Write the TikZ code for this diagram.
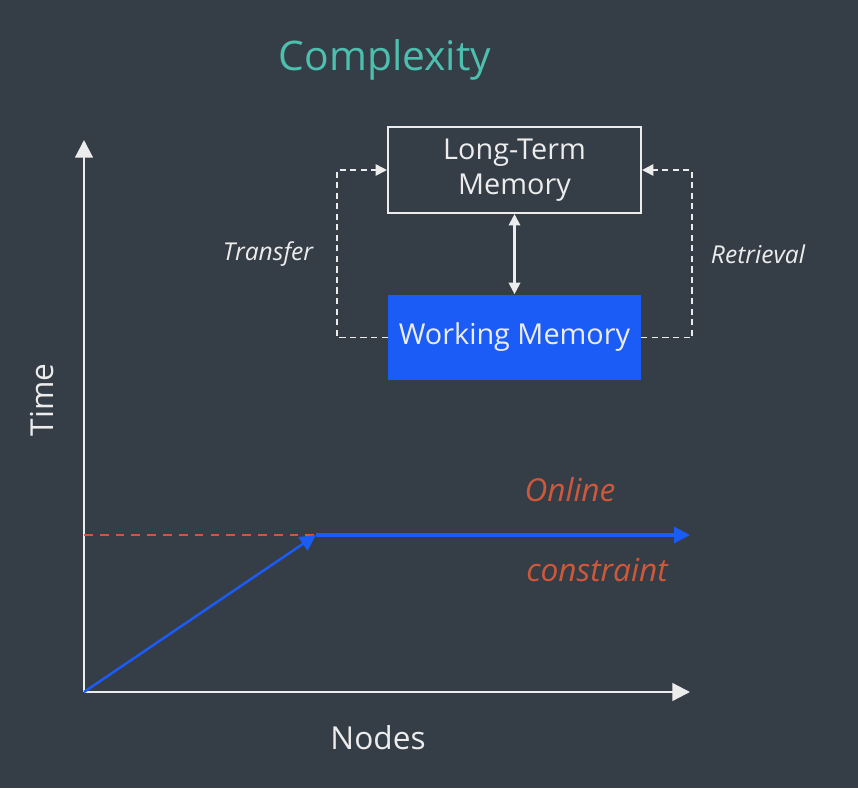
\documentclass[tikz,border=0pt]{standalone}
\usepackage{fontspec}
\setmainfont{Open Sans}
\usepackage{tikz}
\usetikzlibrary{arrows.meta}
\definecolor{bgslate}{HTML}{353D47}
\definecolor{titleteal}{HTML}{4DBFAE}
\definecolor{wmblue}{HTML}{1A5CF5}
\definecolor{limitred}{HTML}{D0583A}
\definecolor{chalk}{HTML}{ECECEC}

\begin{document}
\begin{tikzpicture}[x=0.02cm,y=-0.02cm,
    axis/.style={draw=chalk,line width=1.3pt,-{Triangle[length=10pt,width=10pt]}},
    membox/.style={rectangle,minimum width=5.06cm,minimum height=1.72cm,align=center,text=chalk,font=\fontsize{16.4}{19.8}\selectfont},
    loop/.style={draw=chalk,line width=1pt,dash pattern=on 3.5pt off 2.5pt,-{Triangle[length=6.5pt,width=6.5pt]}},
    tag/.style={text=chalk,font=\fontsize{14}{17}\selectfont\itshape},
    limit/.style={text=limitred,font=\fontsize{18}{21}\selectfont\itshape}]
   		\fill[bgslate] (0,0) rectangle (858,788);
   		\useasboundingbox (0,0) rectangle (858,788);
   		\node at (385,60) [text=titleteal,font=\fontsize{23.2}{28}\selectfont] (title) {Complexity};
   		% axes
   		\coordinate (o) at (84,692);
   		\coordinate (ytop) at (84,140);
   		\coordinate (xend) at (690,692);
   		\draw[axis] (o) -- (ytop);
   		\draw[axis] (o) -- (xend);
   		\node at (42,400) [rotate=90,text=chalk,font=\fontsize{18}{21}\selectfont] (time) {Time};
   		\node at (378,738) [text=chalk,font=\fontsize{18}{21}\selectfont] (nodes) {Nodes};
   		% memory boxes
       	\node at (514.5,170) [membox,draw=chalk,line width=1.2pt] (ltm) {Long-Term\\Memory};
        \node at (514.5,337.5) [membox,fill=wmblue] (wm) {Working Memory};
        \draw[draw=chalk,line width=1.2pt,{Triangle[length=6.5pt,width=6.5pt]}-{Triangle[length=6.5pt,width=6.5pt]}] (ltm.south) -- (wm.north);
        \draw[loop] (wm.west) -- ++(-51,0) |- (ltm.west);
        \draw[loop] (wm.east) -- ++(51,0) |- (ltm.east);
        \node at (268,254) [tag] (transfer) {Transfer};
        \node at (758,254) [tag] (retrieval) {Retrieval};
        % online constraint
        \coordinate (knee) at (316,535);
        \coordinate (cap) at (84,535);
        \coordinate (run) at (690,535);
        \draw[limitred,line width=1.5pt,dash pattern=on 5pt off 4pt] (cap) -- (knee);
        \draw[wmblue,line width=1.4pt,-{Triangle[length=9pt,width=9pt]}] (o) -- (knee);
        \draw[wmblue,line width=1.8pt,-{Triangle[length=9pt,width=9pt]}] (knee) -- (run);
        \node at (570,490) [limit] (online) {Online};
        \node at (597,570) [limit] (constraint) {constraint};
    \end{tikzpicture}
\end{document}
